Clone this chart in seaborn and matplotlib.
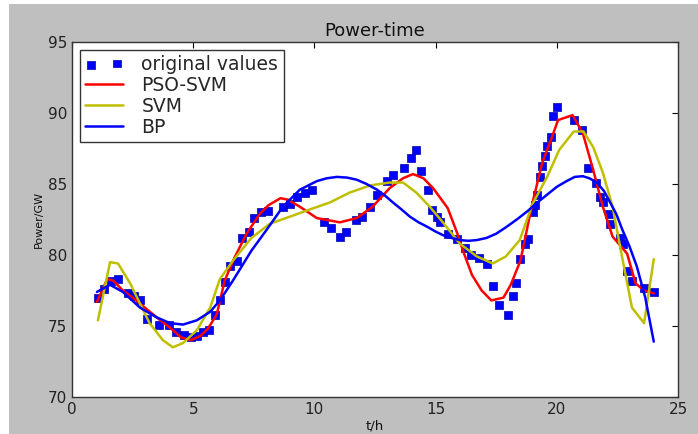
import matplotlib
matplotlib.use("Agg")
import matplotlib.pyplot as plt
import seaborn as sns
import pandas as pd
from matplotlib.patches import Rectangle

# ---- data ----
t_obs = [1.07, 1.32, 1.6, 1.9, 2.3, 2.56, 2.8, 3.1, 3.6, 4.0, 4.3, 4.6, 4.9, 5.15,
         5.4, 5.65, 5.9, 6.1, 6.3, 6.5, 6.8, 7.0, 7.3, 7.5, 7.8, 8.1, 8.7, 9.0, 9.3,
         9.6, 9.9, 10.4, 10.7, 11.05, 11.3, 11.7, 11.95, 12.3, 12.6, 13.0, 13.25,
         13.7, 14.0, 14.2, 14.4, 14.7, 14.85, 15.05, 15.2, 15.5, 15.9, 16.2, 16.45,
         16.8, 17.1, 17.35, 17.6, 18.0, 18.2, 18.3, 18.5, 18.7, 18.8, 19.0, 19.1,
         19.2, 19.3, 19.4, 19.5, 19.6, 19.75, 19.85, 20.0, 20.7, 21.05, 21.3, 21.6,
         21.8, 21.9, 22.15, 22.2, 22.6, 22.75, 22.9, 23.1, 23.6, 24.0]
p_obs = [77.0, 77.6, 78.2, 78.3, 77.3, 77.1, 76.8, 75.5, 75.1, 75.1, 74.6, 74.4, 74.2,
         74.3, 74.6, 74.7, 75.8, 76.8, 78.1, 79.2, 79.6, 81.2, 81.6, 82.6, 83.0, 83.1,
         83.4, 83.6, 84.1, 84.4, 84.6, 82.3, 81.9, 81.3, 81.6, 82.5, 82.7, 83.4, 84.2,
         85.2, 85.6, 86.1, 86.8, 87.4, 85.9, 84.6, 83.2, 82.7, 82.3, 81.5, 81.1, 80.5,
         80.0, 79.8, 79.4, 77.8, 76.5, 75.8, 77.1, 78.0, 79.7, 80.8, 81.1, 83.0, 83.5,
         84.2, 85.5, 86.3, 87.0, 87.7, 88.3, 89.8, 90.4, 89.5, 88.8, 86.1, 85.1, 84.1,
         83.7, 82.9, 82.2, 81.2, 80.8, 78.9, 78.2, 77.7, 77.4]

t_pso = [1.03, 1.45, 1.7, 2.1, 2.5, 3.0, 3.5, 4.1, 4.5, 4.9, 5.3, 5.6, 5.97, 6.3, 6.7,
         7.2, 7.75, 8.1, 8.6, 8.9, 9.4, 10.1, 11.05, 11.75, 12.4, 13.1, 13.65, 14.07,
         14.5, 14.9, 15.5, 15.9, 16.12, 16.5, 16.9, 17.3, 17.8, 18.1, 18.5, 19.0, 19.4,
         19.8, 20.05, 20.65, 21.07, 21.5, 21.9, 22.3, 22.9, 23.25, 23.6, 24.0]
p_pso = [76.7, 78.3, 78.2, 77.5, 77.0, 76.3, 75.6, 74.8, 74.2, 74.0, 74.3, 74.8, 75.8,
         78.2, 79.8, 81.5, 82.9, 83.5, 84.0, 83.9, 83.4, 82.6, 82.3, 82.6, 83.4, 84.7,
         85.4, 85.7, 85.4, 84.7, 83.3, 81.5, 80.35, 78.6, 77.5, 76.8, 77.0, 77.9, 79.6,
         83.7, 86.5, 88.3, 89.5, 89.85, 88.6, 86.0, 83.4, 81.3, 80.1, 78.0, 77.5, 77.3]

t_svm = [1.07, 1.57, 1.9, 2.4, 2.8, 3.2, 3.75, 4.16, 4.58, 5.15, 5.7, 6.1, 6.64, 7.4,
         8.16, 8.99, 9.8, 10.64, 11.46, 12.3, 13.1, 13.66, 14.2, 14.76, 15.3, 16.0,
         16.7, 17.36, 17.9, 18.47, 19.0, 19.6, 20.1, 20.7, 21.1, 21.5, 21.9, 22.3, 22.7,
         23.1, 23.6, 24.0]
p_svm = [75.4, 79.5, 79.4, 78.0, 76.6, 75.2, 74.0, 73.5, 73.8, 74.7, 76.3, 78.3, 79.6,
         81.2, 82.2, 82.7, 83.2, 83.7, 84.4, 84.9, 85.1, 85.1, 84.4, 83.4, 82.3, 80.8,
         79.9, 79.4, 79.9, 81.05, 83.6, 85.5, 87.4, 88.7, 88.7, 87.6, 85.8, 83.4, 79.8,
         76.3, 75.2, 79.7]

t_bp = [1.03, 1.57, 2.1, 2.8, 3.5, 4.05, 4.58, 5.15, 5.7, 6.1, 6.64, 7.4, 8.04, 8.7,
        9.4, 10.1, 10.5, 10.93, 11.35, 11.75, 12.15, 12.58, 12.9, 13.24, 13.6, 13.94,
        14.3, 14.64, 15.0, 15.3, 15.65, 16.0, 16.35, 16.7, 17.1, 17.5, 17.9, 18.35,
        18.8, 19.2, 19.6, 20.0, 20.4, 20.74, 21.07, 21.35, 21.65, 21.95, 22.2, 22.45,
        22.7, 23.0, 23.3, 23.65, 24.0]
p_bp = [77.4, 77.9, 77.4, 76.3, 75.6, 75.2, 75.1, 75.4, 76.0, 76.8, 78.2, 80.3, 81.8,
        83.4, 84.6, 85.2, 85.4, 85.5, 85.45, 85.3, 85.0, 84.6, 84.2, 83.7, 83.2, 82.7,
        82.3, 82.0, 81.65, 81.4, 81.2, 81.05, 81.0, 81.05, 81.2, 81.5, 81.95, 82.5,
        83.1, 83.7, 84.25, 84.8, 85.2, 85.5, 85.55, 85.4, 85.1, 84.5, 83.7, 82.9,
        81.8, 80.6, 79.2, 77.0, 73.9]

x_ticks = [0, 5, 10, 15, 20, 25]
y_ticks = [70, 75, 80, 85, 90, 95]

# ---- style ----
sns.set_style("white")
plt.rcParams["font.family"] = ["DejaVu Sans"]
plt.rcParams["xtick.direction"] = "in"
plt.rcParams["ytick.direction"] = "in"

fig = plt.figure(figsize=(6.98, 4.34), dpi=100, facecolor="white")
fig.patches.append(Rectangle((9 / 698, 0), 1, 1 - 4 / 434, transform=fig.transFigure,
                             facecolor="#bfbfbf", edgecolor="none", zorder=-10))
ax = fig.add_axes([72 / 698, 1 - 397 / 434, 606 / 698, 355 / 434])
ax.set_facecolor("white")

obs = pd.DataFrame({"t": t_obs, "p": p_obs})
sns.scatterplot(data=obs, x="t", y="p", ax=ax, marker="s", s=30, color="#0000ff",
                edgecolor="#0000aa", linewidth=0.5, label="original values", zorder=3)
sns.lineplot(x=t_pso, y=p_pso, ax=ax, color="#ff0000", lw=1.8, sort=False,
             estimator=None, label="PSO-SVM", zorder=4)
sns.lineplot(x=t_svm, y=p_svm, ax=ax, color="#bfbf00", lw=1.8, sort=False,
             estimator=None, label="SVM", zorder=4)
sns.lineplot(x=t_bp, y=p_bp, ax=ax, color="#0000ff", lw=1.8, sort=False,
             estimator=None, label="BP", zorder=4)

ax.set_xlim(0, 25)
ax.set_ylim(70, 95)
ax.set_xticks(x_ticks)
ax.set_yticks(y_ticks)
ax.tick_params(axis="both", which="both", top=True, right=True, length=4,
               width=0.8, color="black", labelsize=11, labelcolor="#222222")
for sp in ax.spines.values():
    sp.set_visible(True)
    sp.set_color("#333333")
    sp.set_linewidth(1.0)

ax.set_title("Power-time", fontsize=13, color="#111111", pad=4)
ax.set_xlabel("t/h", fontsize=9.5, color="#111111", labelpad=2)
ax.set_ylabel("Power/GW", fontsize=8, color="#111111", labelpad=3)

leg = ax.legend(loc="upper left", fontsize=13.5, frameon=True, fancybox=False,
                borderaxespad=0.4, handlelength=2.0, labelspacing=0.1,
                handletextpad=1.0, borderpad=0.3, scatterpoints=2)
leg.get_frame().set_edgecolor("#333333")
leg.get_frame().set_linewidth(1.0)
leg.get_frame().set_alpha(1)

fig.savefig("out.png", dpi=100, facecolor=fig.get_facecolor())
